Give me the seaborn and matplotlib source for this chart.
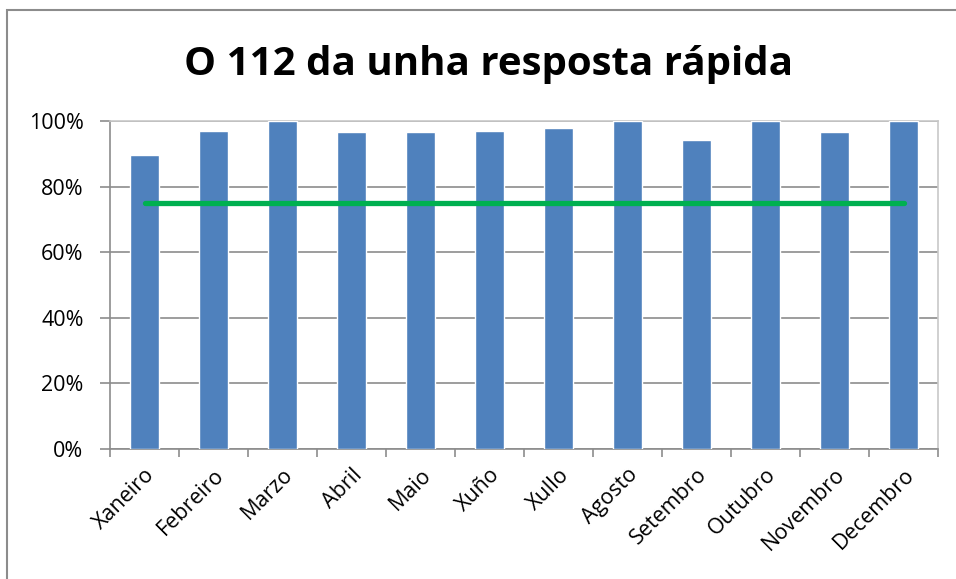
import matplotlib
matplotlib.use("Agg")
import matplotlib.pyplot as plt
import seaborn as sns
import pandas as pd
from matplotlib.patches import Rectangle
from matplotlib.ticker import PercentFormatter, FixedLocator

# datos mensuais
meses = ["Xaneiro", "Febreiro", "Marzo", "Abril", "Maio", "Xuño",
         "Xullo", "Agosto", "Setembro", "Outubro", "Novembro", "Decembro"]
resposta = [89.6, 97.0, 100.0, 96.6, 96.6, 97.0, 97.9, 100.0, 94.2, 100.0, 96.6, 100.0]
obxectivo = [75] * 12

df = pd.DataFrame({"mes": meses, "resposta": resposta, "obxectivo": obxectivo})

sns.set_style("white")
plt.rcParams['font.family'] = ['Open Sans', 'DejaVu Sans']

fig = plt.figure(figsize=(9.56, 5.79), dpi=100)
ax = fig.add_axes([110/956, 1 - 449/579, 828/956, 328/579])

# marco exterior do gráfico
fig.patches.append(Rectangle((7/956, -0.1), 1.2, 1 - 10/579 + 0.1,
                             transform=fig.transFigure, fill=False,
                             edgecolor="#8c8c8c", linewidth=1.5))

sns.barplot(data=df, x="mes", y="resposta", color="#4F81BD", saturation=1,
            width=0.41, ax=ax, zorder=3)
ax.plot(range(len(meses)), df["obxectivo"], color="#00B050", linewidth=3.8,
        solid_capstyle="round", zorder=4)

ax.set_xlim(-0.5, 11.5)
ax.set_ylim(0, 100)
ax.set_yticks([0, 20, 40, 60, 80, 100])
ax.yaxis.set_major_formatter(PercentFormatter(decimals=0))
ax.yaxis.grid(True, color="#8c8c8c", linewidth=1.2, zorder=0)
ax.set_axisbelow(True)

ax.set_xlabel("")
ax.set_ylabel("")
ax.set_xticks(range(len(meses)))
ax.set_xticklabels(meses, rotation=45, ha="right", rotation_mode="anchor")
ax.xaxis.set_minor_locator(FixedLocator([i - 0.5 for i in range(13)]))
ax.tick_params(axis="x", which="major", length=0, pad=11, labelsize=15.5, labelcolor="black")
ax.tick_params(axis="x", which="minor", length=6, width=1.2, color="#8c8c8c", direction="out", bottom=True)
ax.tick_params(axis="y", length=7, width=1.2, color="#8c8c8c", direction="out", left=True,
               labelsize=15.5, labelcolor="black", pad=12)

for s in ["left", "bottom"]:
    ax.spines[s].set_color("#8c8c8c")
    ax.spines[s].set_linewidth(1.2)
for s in ["top", "right"]:
    ax.spines[s].set_color("#c8c8c8")
    ax.spines[s].set_linewidth(1.2)

fig.text(488/956, 1 - 64/579, "O 112 da unha resposta rápida", ha="center", va="center",
         fontsize=29, fontweight="bold", color="black")

fig.savefig("out.png", dpi=100)
